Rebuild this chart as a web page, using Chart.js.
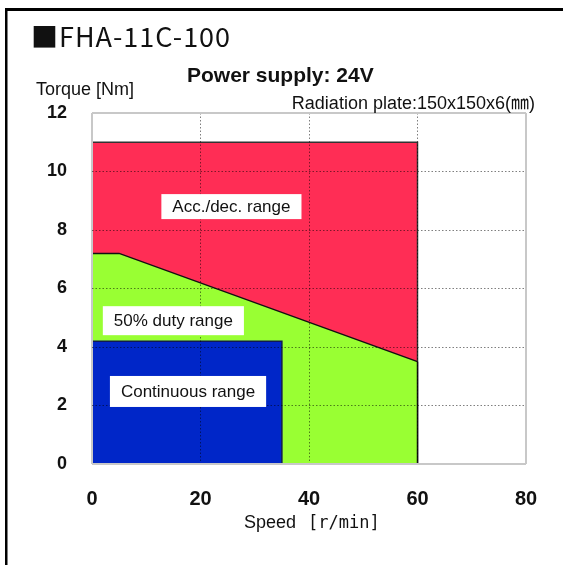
<!DOCTYPE html>
<html>
<head>
<meta charset="utf-8">
<script src="https://cdn.jsdelivr.net/npm/chart.js@4.4.0/dist/chart.umd.min.js"></script>
<style>
  body { margin: 0; background: #fff; }
  canvas { display: block; }
</style>
</head>
<body>
<canvas id="torqueChart" width="563" height="565"></canvas>
<script>
// speed [r/min] / torque [Nm] outlines of each operating range
const accDecSpeed = [0, 60, 60];
const accDecTorque = [11, 11, 0];
const dutySpeed = [0, 5, 60, 60];
const dutyTorque = [7.2, 7.2, 3.5, 0];
const contSpeed = [0, 35, 35];
const contTorque = [4.2, 4.2, 0];

const speedTicks = [0, 20, 40, 60, 80];
const torqueTicks = [0, 2, 4, 6, 8, 10, 12];

const regionNames = ['Acc./dec. range', '50% duty range', 'Continuous range'];

const toPoints = (xs, ys) => xs.map((x, i) => ({ x: x, y: ys[i] }));

const isEdge = (ticks, v) => v === ticks[0] || v === ticks[ticks.length - 1];

// where the white name boxes sit (data coords) and how tall they are
const labelSpots = [
  { x: 25.7, y: 8.8, h: 25 },
  { x: 15.0, y: 4.9, h: 29 },
  { x: 17.7, y: 2.48, h: 31 }
];

const decorPlugin = {
  id: 'decor',
  afterDraw(chart) {
    const ctx = chart.ctx;
    const xs = chart.scales.x, ys = chart.scales.y;
    ctx.save();

    // outer frame (only top + left show)
    ctx.fillStyle = '#000';
    ctx.fillRect(5, 8, 558, 3);
    ctx.fillRect(5, 8, 2.5, 557);

    ctx.fillStyle = '#111';
    ctx.textBaseline = 'alphabetic';
    ctx.textAlign = 'left';
    ctx.font = '27px "Noto Sans CJK JP"';
    ctx.letterSpacing = '1px';
    ctx.fillText('■FHA-11C-100', 31, 47);
    ctx.letterSpacing = '0px';

    ctx.font = 'bold 21px "Liberation Sans"';
    ctx.fillText('Power supply: 24V', 187, 82);

    ctx.font = '18px "Liberation Sans"';
    ctx.fillText('Torque [Nm]', 36, 95);

    ctx.textAlign = 'right';
    ctx.font = '18px "Liberation Sans", "Noto Sans CJK JP"';
    ctx.fillText('Radiation plate:150x150x6(㎜)', 535, 109);

    ctx.textAlign = 'left';
    ctx.font = '18px "Liberation Sans"';
    ctx.fillText('Speed', 244, 528);
    ctx.font = '17px "DejaVu Sans Mono"';
    ctx.fillText('[r/min]', 308, 528);

    // range names in white boxes
    ctx.font = '17px "Liberation Sans"';
    ctx.textAlign = 'center';
    ctx.textBaseline = 'middle';
    regionNames.forEach((name, i) => {
      const s = labelSpots[i];
      const cx = xs.getPixelForValue(s.x);
      const cy = ys.getPixelForValue(s.y);
      const w = ctx.measureText(name).width + 22;
      ctx.fillStyle = '#fff';
      ctx.fillRect(cx - w / 2, cy - s.h / 2, w, s.h);
      ctx.fillStyle = '#111';
      ctx.fillText(name, cx, cy + 1);
    });
    ctx.restore();
  }
};

const gridColor = (ticks) => c => isEdge(ticks, c.tick.value) ? '#c8c8c8' : 'rgba(0,0,0,0.5)';
const gridWidth = (ticks) => c => isEdge(ticks, c.tick.value) ? 2 : 1;
const gridDash = (ticks) => c => (c.tick && !isEdge(ticks, c.tick.value)) ? [1.5, 2] : [];

new Chart(document.getElementById('torqueChart'), {
  type: 'scatter',
  data: {
    datasets: [
      {
        label: regionNames[2],
        data: toPoints(contSpeed, contTorque),
        showLine: true,
        fill: 'origin',
        backgroundColor: '#0026c8',
        borderColor: '#101a55',
        borderWidth: 1.5,
        pointRadius: 0,
        tension: 0
      },
      {
        label: regionNames[1],
        data: toPoints(dutySpeed, dutyTorque),
        showLine: true,
        fill: 'origin',
        backgroundColor: '#99ff33',
        borderColor: '#111',
        borderWidth: 1.5,
        pointRadius: 0,
        tension: 0,
        segment: {
          borderDash: c => c.p0DataIndex === 2 ? [5, 3] : undefined
        }
      },
      {
        label: regionNames[0],
        data: toPoints(accDecSpeed, accDecTorque),
        showLine: true,
        fill: 'origin',
        backgroundColor: '#ff2d55',
        borderColor: '#333',
        borderWidth: 1.5,
        pointRadius: 0,
        tension: 0
      }
    ]
  },
  options: {
    responsive: false,
    animation: false,
    layout: { padding: { top: 113, right: 37, bottom: 41, left: 0 } },
    plugins: {
      legend: { display: false },
      tooltip: { enabled: false }
    },
    scales: {
      x: {
        type: 'linear',
        min: speedTicks[0],
        max: speedTicks[speedTicks.length - 1],
        afterBuildTicks: s => { s.ticks = speedTicks.map(v => ({ value: v })); },
        afterFit: s => { s.height = 60; },
        grid: { z: 1, drawTicks: false, color: gridColor(speedTicks), lineWidth: gridWidth(speedTicks) },
        border: { display: false, dash: gridDash(speedTicks) },
        ticks: {
          padding: 23,
          color: '#111',
          font: { family: 'Liberation Sans', size: 20, weight: 'bold' }
        }
      },
      y: {
        min: torqueTicks[0],
        max: torqueTicks[torqueTicks.length - 1],
        afterBuildTicks: s => { s.ticks = torqueTicks.map(v => ({ value: v })); },
        afterFit: s => { s.width = 92; },
        grid: { z: 1, drawTicks: false, color: gridColor(torqueTicks), lineWidth: gridWidth(torqueTicks) },
        border: { display: false, dash: gridDash(torqueTicks) },
        ticks: {
          padding: 25,
          color: '#111',
          font: { family: 'Liberation Sans', size: 18, weight: 'bold' }
        }
      }
    }
  },
  plugins: [decorPlugin]
});
</script>
</body>
</html>
